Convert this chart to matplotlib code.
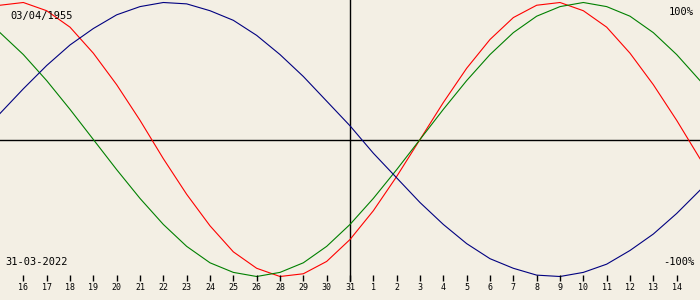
import matplotlib
matplotlib.use("Agg")
import matplotlib.pyplot as plt

# Day labels along the bottom (as shown in the reference)
day_labels = ["16", "17", "18", "19", "20", "21", "22", "23", "24", "25", "26",
              "28", "29", "30", "31", "1", "2", "3", "4", "5", "6", "7", "8",
              "9", "10", "11", "12", "13", "14"]

# Biorhythm values (percent) read at each day position 0..30
physical = [98, 100, 94, 82, 63, 40, 14, -14, -40, -63, -82, -94, -100, -98, -89,
            -73, -52, -27, 0, 27, 52, 73, 89, 98, 100, 94, 82, 63, 40, 14, -14]
emotional = [78, 62, 43, 22, 0, -22, -43, -62, -78, -90, -97, -100, -97, -90, -78,
             -62, -43, -22, 0, 22, 43, 62, 78, 90, 97, 100, 97, 90, 78, 62, 43]
intellectual = [19, 37, 54, 69, 81, 91, 97, 100, 99, 94, 87, 76, 62, 46, 28,
                10, -10, -28, -46, -62, -76, -87, -94, -99, -100, -97, -91, -81, -69, -54, -37]

birth_label = "03/04/1955"
date_label = "31-03-2022"
top_label = "100%"
bottom_label = "-100%"

bg = "#f3efe4"
fig = plt.figure(figsize=(7, 3), dpi=100, facecolor=bg)
ax = fig.add_axes([0, 0, 1, 1])
ax.set_facecolor(bg)
for s in ax.spines.values():
    s.set_visible(False)
ax.set_xticks([])
ax.set_yticks([])

k = 1.37  # pixels per percent
c = 139.5
def py(y):
    return (c - y) / k

ax.set_xlim(0, 30)
ax.set_ylim(py(300), py(0))

xs = list(range(len(physical)))
ax.axhline(py(140), color="black", lw=1.0)
ax.plot([15, 15], [py(281), py(0)], color="black", lw=1.0)

ax.plot(xs, physical, color="#ff0000", lw=0.8)
ax.plot(xs, emotional, color="#008000", lw=0.8)
ax.plot(xs, intellectual, color="#000080", lw=0.8)

tick_x = list(range(1, len(day_labels) + 1))
ax.vlines(tick_x, py(281), py(275), color="black", lw=1.0)
for x, lab in zip(tick_x, day_labels):
    ax.text(x, py(288), lab, ha="center", va="center",
            family="DejaVu Sans Mono", fontsize=6, color="black")

font = dict(family="DejaVu Sans Mono", fontsize=7.5, color="black")
ax.text(10 / 23.333, py(16), birth_label, ha="left", va="center", **font)
ax.text(5 / 23.333, py(262), date_label, ha="left", va="center", **font)
ax.text(694 / 23.333, py(12), top_label, ha="right", va="center", **font)
ax.text(694 / 23.333, py(262), bottom_label, ha="right", va="center", **font)

fig.savefig("out.png", dpi=100, facecolor=bg)
